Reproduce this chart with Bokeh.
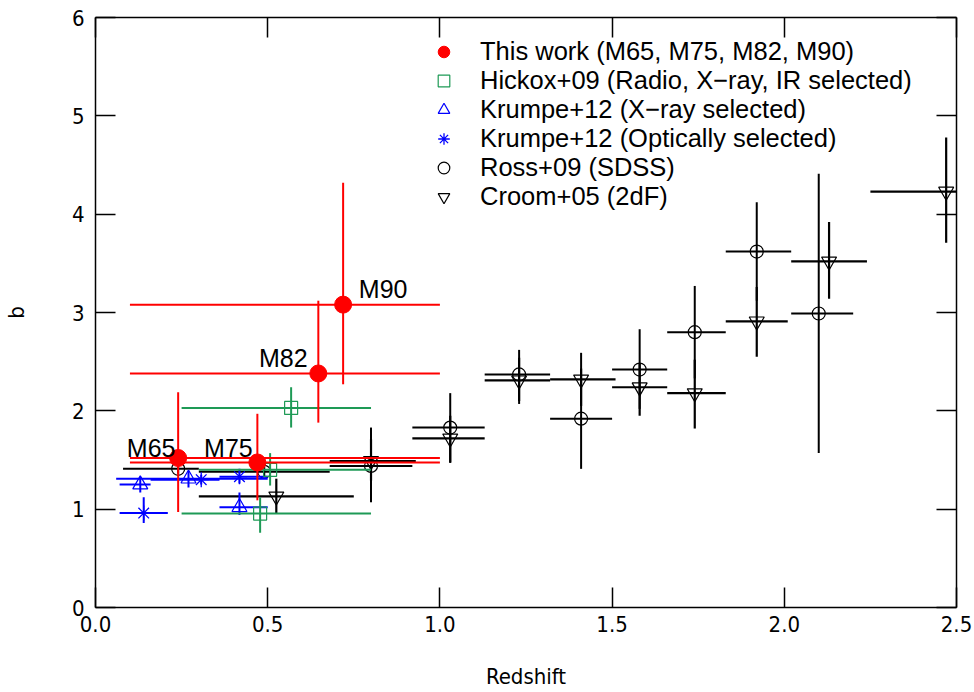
from bokeh.plotting import figure
from bokeh.models import (Range1d, LinearAxis, Legend, LegendItem, FixedTicker,
                          PrintfTickFormatter, CustomJSTickFormatter, ColumnDataSource)
from bokeh.core.properties import value
from bokeh.embed import file_html
from bokeh.resources import INLINE

# ---------------- data ----------------
# This work (M65, M75, M82, M90)
tw_name = ["M65", "M75", "M82", "M90"]
tw_z = [0.24, 0.47, 0.647, 0.719]
tw_b = [1.52, 1.475, 2.38, 3.08]
tw_zlo = [0.10, 0.10, 0.10, 0.10]
tw_zhi = [1.00, 1.00, 1.00, 1.00]
tw_blo = [0.97, 1.09, 1.88, 2.27]
tw_bhi = [2.19, 1.97, 3.12, 4.32]

# Hickox+09
hk_z = [0.568, 0.507, 0.478]
hk_b = [2.03, 1.40, 0.955]
hk_zlo = [0.25, 0.30, 0.25]
hk_zhi = [0.80, 0.80, 0.80]
hk_blo = [1.83, 1.24, 0.76]
hk_bhi = [2.24, 1.57, 1.12]

# Krumpe+12 (X-ray selected)
kx_z = [0.13, 0.27, 0.418]
kx_b = [1.25, 1.31, 1.02]
kx_zlo = [0.07, 0.06, 0.36]
kx_zhi = [0.16, 0.50, 0.50]
kx_blo = [1.17, 1.22, 0.94]
kx_bhi = [1.33, 1.39, 1.17]

# Krumpe+12 (Optically selected)
ko_z = [0.14, 0.307, 0.418]
ko_b = [0.96, 1.30, 1.33]
ko_zlo = [0.07, 0.16, 0.36]
ko_zhi = [0.21, 0.36, 0.50]
ko_blo = [0.86, 1.25, 1.26]
ko_bhi = [1.12, 1.35, 1.41]

# Ross+09 (SDSS)
rs_z = [0.24, 0.49, 0.80, 1.03, 1.23, 1.41, 1.58, 1.74, 1.92, 2.10]
rs_b = [1.41, 1.38, 1.44, 1.83, 2.37, 1.92, 2.42, 2.80, 3.62, 2.99]
rs_zlo = [0.08, 0.30, 0.68, 0.92, 1.13, 1.32, 1.50, 1.66, 1.83, 2.02]
rs_zhi = [0.30, 0.68, 0.92, 1.13, 1.32, 1.50, 1.66, 1.83, 2.02, 2.20]
rs_blo = [1.36, 1.33, 1.07, 1.48, 2.07, 1.41, 2.02, 2.33, 3.12, 1.57]
rs_bhi = [1.46, 1.43, 1.83, 2.18, 2.62, 2.59, 2.83, 3.27, 4.12, 4.41]

# Croom+05 (2dF)
cr_z = [0.525, 0.80, 1.03, 1.23, 1.41, 1.58, 1.74, 1.92, 2.13, 2.47]
cr_b = [1.13, 1.49, 1.72, 2.31, 2.32, 2.24, 2.18, 2.91, 3.52, 4.23]
cr_zlo = [0.30, 0.68, 0.92, 1.13, 1.32, 1.50, 1.66, 1.83, 2.02, 2.25]
cr_zhi = [0.75, 0.93, 1.13, 1.32, 1.51, 1.66, 1.83, 2.01, 2.24, 2.55]
cr_blo = [0.96, 1.29, 1.47, 2.10, 2.05, 1.95, 1.82, 2.55, 3.14, 3.71]
cr_bhi = [1.31, 1.71, 1.95, 2.54, 2.43, 2.48, 2.52, 3.26, 3.92, 4.78]

x_ticks = [0.0, 0.5, 1.0, 1.5, 2.0, 2.5]
y_ticks = [0, 1, 2, 3, 4, 5, 6]

legend_labels = [
    "This work (M65, M75, M82, M90)",
    "Hickox+09 (Radio, X\u2212ray, IR selected)",
    "Krumpe+12 (X\u2212ray selected)",
    "Krumpe+12 (Optically selected)",
    "Ross+09 (SDSS)",
    "Croom+05 (2dF)",
]

# label offsets (screen px) for the annotation of this work
lab_dx = [-27, -29, -35, 40]
lab_dy = [-10, -14, -15, -16]

# ---------------- figure ----------------
TICK_FONT = "'Liberation Sans Narrow', 'DejaVu Sans Condensed', sans-serif"
TEXT_FONT = "Liberation Sans"

p = figure(width=974, height=692, output_backend="svg", toolbar_location=None,
           x_range=Range1d(0, 2.5), y_range=Range1d(0, 6),
           min_border_left=94, min_border_right=18, min_border_top=17,
           min_border_bottom=85)
p.grid.visible = False
p.outline_line_color = None
p.background_fill_color = "white"
p.border_fill_color = "white"

xt = FixedTicker(ticks=x_ticks)
yt = FixedTicker(ticks=y_ticks)

for ax in (p.xaxis[0], p.yaxis[0]):
    ax.major_tick_in = 20
    ax.major_tick_out = 0
    ax.minor_tick_in = 0
    ax.minor_tick_out = 0
    ax.axis_line_width = 1.5
    ax.major_tick_line_width = 1.5
    ax.axis_line_color = "black"
    ax.major_tick_line_color = "black"
    ax.major_label_text_font = TICK_FONT
    ax.major_label_text_font_size = "22px"
    ax.major_label_text_color = "black"
    ax.axis_label_text_font = TICK_FONT
    ax.axis_label_text_font_size = "22px"
    ax.axis_label_text_font_style = "normal"
    ax.axis_label_text_color = "black"

p.xaxis[0].ticker = xt
p.yaxis[0].ticker = yt
p.xaxis[0].formatter = PrintfTickFormatter(format="%.1f")
p.yaxis[0].formatter = PrintfTickFormatter(format="%d")
p.xaxis[0].axis_label = "Redshift"
p.yaxis[0].axis_label = "b"
p.xaxis[0].major_label_standoff = 8
p.yaxis[0].major_label_standoff = 11
p.xaxis[0].axis_label_standoff = 29
p.yaxis[0].axis_label_standoff = 40

empty = CustomJSTickFormatter(code="return ''")
top = LinearAxis(ticker=xt, formatter=empty, major_tick_in=20, major_tick_out=0,
                 minor_tick_in=0, minor_tick_out=0, axis_line_width=1.5,
                 major_tick_line_width=1.5, major_label_standoff=0)
right = LinearAxis(ticker=yt, formatter=empty, major_tick_in=20, major_tick_out=0,
                   minor_tick_in=0, minor_tick_out=0, axis_line_width=1.5,
                   major_tick_line_width=1.5, major_label_standoff=0)
p.add_layout(top, "above")
p.add_layout(right, "right")


def errbars(z, b, zlo, zhi, blo, bhi, color, lw=2):
    src = ColumnDataSource(dict(z=z, b=b, zlo=zlo, zhi=zhi, blo=blo, bhi=bhi))
    p.segment(x0="zlo", x1="zhi", y0="b", y1="b", source=src, line_color=color, line_width=lw)
    p.segment(x0="z", x1="z", y0="blo", y1="bhi", source=src, line_color=color, line_width=lw)
    return src


BLACK = "#000000"
BLUE = "#0000ff"
GREEN = "#1e9a56"
RED = "#ff0000"

s_cr = errbars(cr_z, cr_b, cr_zlo, cr_zhi, cr_blo, cr_bhi, BLACK, 2.2)
s_rs = errbars(rs_z, rs_b, rs_zlo, rs_zhi, rs_blo, rs_bhi, BLACK, 2)
r_cr = p.scatter(x="z", y="b", source=s_cr, marker="inverted_triangle", size=15,
                 fill_color=None, line_color=BLACK, line_width=1.2)
r_rs = p.scatter(x="z", y="b", source=s_rs, marker="circle", size=13,
                 fill_color=None, line_color=BLACK, line_width=1.2)

s_kx = errbars(kx_z, kx_b, kx_zlo, kx_zhi, kx_blo, kx_bhi, BLUE, 2)
s_ko = errbars(ko_z, ko_b, ko_zlo, ko_zhi, ko_blo, ko_bhi, BLUE, 2)
r_kx = p.scatter(x="z", y="b", source=s_kx, marker="triangle", size=15,
                 fill_color=None, line_color=BLUE, line_width=1.2)
r_ko = p.scatter(x="z", y="b", source=s_ko, marker="asterisk", size=15,
                 line_color=BLUE, line_width=1.3)

s_hk = errbars(hk_z, hk_b, hk_zlo, hk_zhi, hk_blo, hk_bhi, GREEN, 2)
r_hk = p.scatter(x="z", y="b", source=s_hk, marker="square", size=13,
                 fill_color=None, line_color=GREEN, line_width=1.2)

s_tw = errbars(tw_z, tw_b, tw_zlo, tw_zhi, tw_blo, tw_bhi, RED, 2)
r_tw = p.scatter(x="z", y="b", source=s_tw, marker="circle", size=17,
                 fill_color=RED, line_color=RED, line_width=1)

lab_src = ColumnDataSource(dict(z=tw_z, b=tw_b, name=tw_name, dx=lab_dx, dy=lab_dy))
p.text(x="z", y="b", text="name", source=lab_src, x_offset="dx", y_offset="dy",
       text_font=value(TEXT_FONT), text_font_size="25px", text_align="center",
       text_baseline="alphabetic", text_color="black")

renderers = [r_tw, r_hk, r_kx, r_ko, r_rs, r_cr]
legend = Legend(items=[LegendItem(label=l, renderers=[r]) for l, r in zip(legend_labels, renderers)],
                location=(334, 396), orientation="vertical",
                glyph_width=29, glyph_height=29, label_height=29, spacing=0,
                label_standoff=22, padding=0, margin=0,
                border_line_alpha=0, background_fill_alpha=0,
                label_text_font=TEXT_FONT, label_text_font_size="25.5px",
                label_text_color="black")
p.add_layout(legend)

open("out.html", "w").write(file_html(p, INLINE))
